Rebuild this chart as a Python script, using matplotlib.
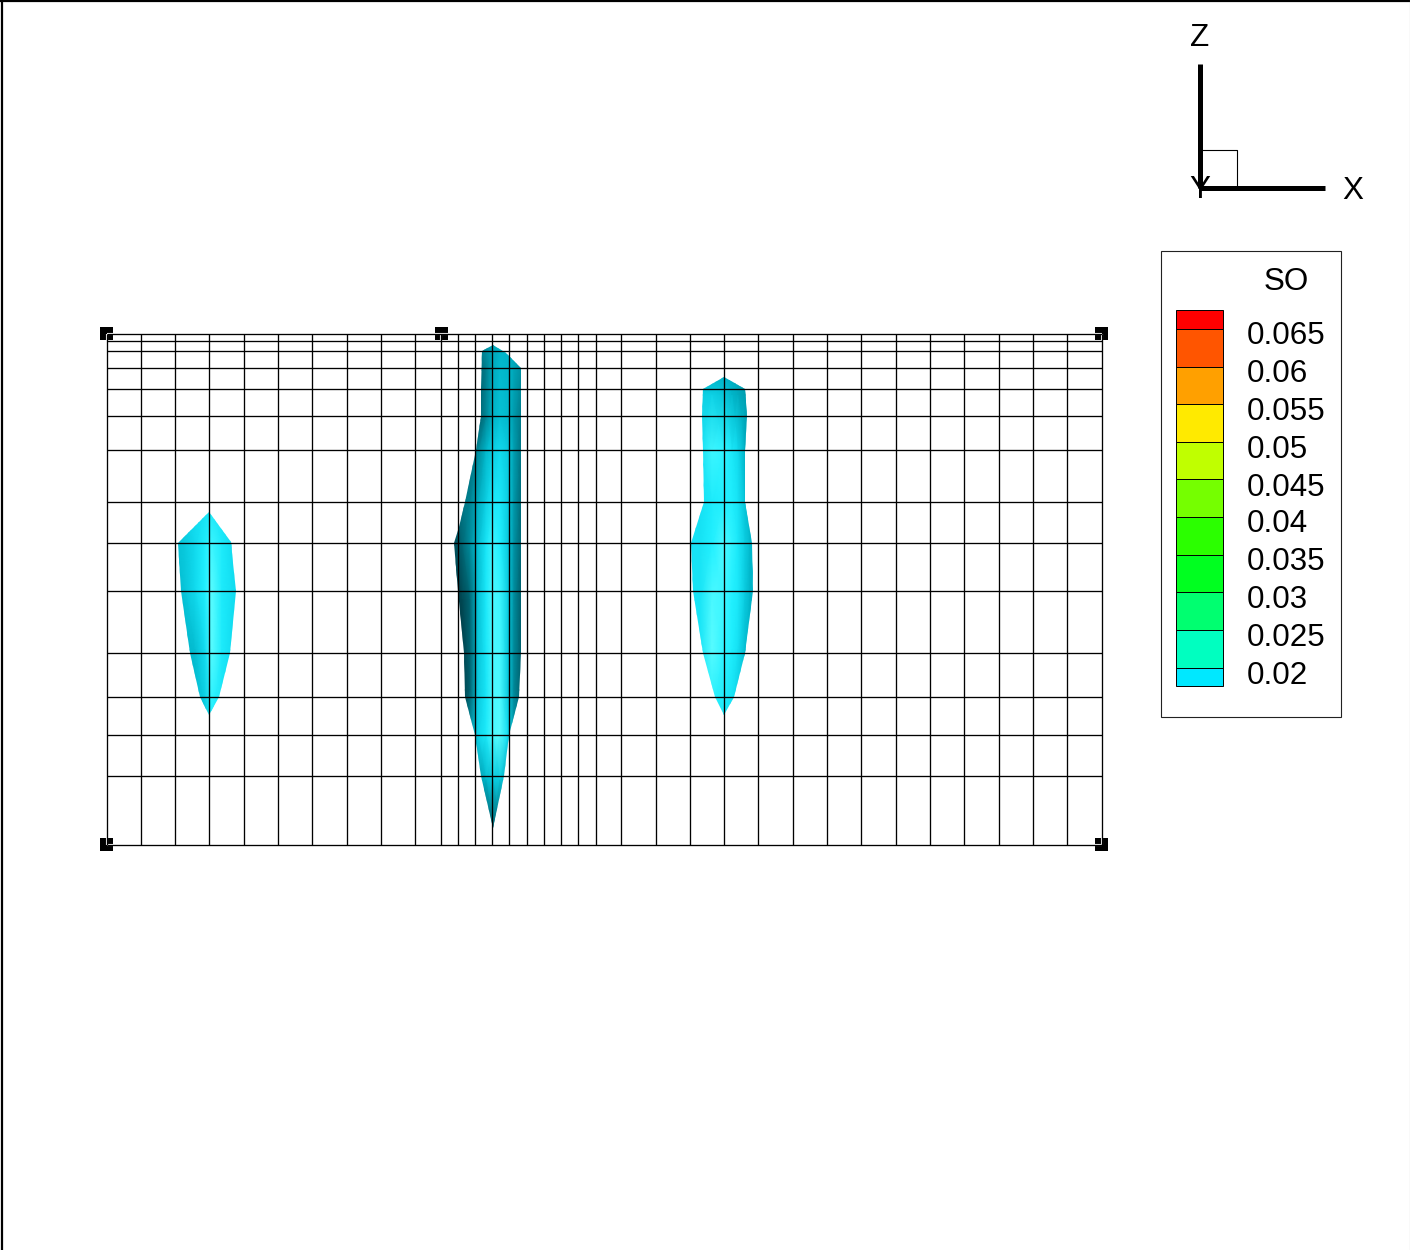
import numpy as np
from matplotlib import pyplot as plt
from matplotlib.colors import LinearSegmentedColormap
from matplotlib.patches import Polygon, Rectangle

plt.rcParams['font.family'] = ['Liberation Sans', 'DejaVu Sans']

W, H = 1410, 1250

# mesh lines
mesh_x = [106.7, 140.8, 175, 209.2, 243.6, 277.8, 312.2, 346.6, 380.8, 415.2, 441, 458.2, 475.4,
          492.4, 509.4, 526.7, 544, 561, 578.4, 595.7, 621.4, 655.7, 689.7, 724, 758.4,
          792.7, 827, 861.4, 895.7, 930, 964.4, 998.7, 1033, 1067.4, 1101.7]
mesh_y = [333.5, 340.5, 350.8, 367.8, 388.5, 416, 450, 501.8, 542.8, 590.5, 652.5, 696.8,
          734.8, 775.8, 844.8]
handles = [(106.7, 333.5), (441, 333.5), (1101.7, 333.5), (106.7, 844.8), (1101.7, 844.8)]

# blob outlines
left_blob = [(209.3, 511.7), (231, 541.7), (233, 563), (235.7, 591), (230, 653), (219, 697),
             (209.3, 714.5), (200, 697), (190, 653), (180.7, 591), (178.3, 542.7)]
centre_blob = [(492.7, 345), (506, 353.3), (520.7, 368), (521, 450), (521, 652.7), (519.3, 697),
               (509.3, 735), (504.3, 776), (492.7, 828), (480.7, 776), (475, 735), (465, 697),
               (464, 652.7), (458.3, 590.7), (454.3, 543), (459, 526.7), (465, 502),
               (475.7, 450.3), (481, 416.3), (480.7, 388.7), (482, 351)]
right_blob = [(724.3, 376.7), (745, 388.7), (746.7, 416.3), (745, 450.3), (744.7, 502),
              (751.7, 543), (752.7, 590.7), (745, 652.7), (734.3, 697), (724.3, 715),
              (715, 697), (703.3, 652.7), (693.3, 590.7), (690.7, 543), (704, 502),
              (703.3, 450.3), (702.3, 416.3), (703.3, 388.7)]

# shading read from the blobs: brightness at each column (x) and row (y)
left_sx = [176, 185, 195, 205, 212, 222, 232, 238]
left_sy = [510, 545, 590, 650, 715]
left_shade = [[.72, .72, .76, .80, .84, .80, .74, .72],
              [.62, .66, .74, .88, .94, .86, .76, .72],
              [.58, .64, .74, .90, .98, .86, .78, .74],
              [.50, .56, .60, .76, .98, .86, .76, .72],
              [.50, .55, .58, .66, .90, .80, .72, .70]]

centre_sx = [452, 462, 470, 478, 486, 493, 500, 508, 514, 522]
centre_sy = [344, 370, 420, 450, 500, 545, 600, 690, 735, 780, 830]
centre_shade = [[.35, .35, .35, .38, .44, .50, .54, .54, .52, .48],
                [.28, .28, .28, .28, .36, .52, .58, .56, .50, .42],
                [.28, .28, .28, .24, .40, .56, .62, .58, .46, .34],
                [.30, .30, .30, .40, .56, .68, .74, .66, .48, .32],
                [.30, .34, .38, .52, .68, .84, .84, .68, .46, .28],
                [.14, .28, .42, .60, .82, .94, .90, .66, .44, .26],
                [.10, .14, .28, .62, .84, .96, .94, .68, .42, .22],
                [.10, .10, .26, .66, .82, .96, .96, .66, .40, .24],
                [.30, .30, .44, .72, .86, .96, .98, .76, .46, .36],
                [.30, .30, .40, .46, .56, .66, .66, .50, .36, .30],
                [.14, .14, .16, .18, .22, .24, .24, .20, .16, .14]]

right_sx = [688, 700, 712, 724, 732, 738, 745, 750, 755]
right_sy = [375, 395, 450, 500, 545, 600, 650, 715]
right_shade = [[.52, .52, .54, .54, .52, .50, .46, .46, .46],
               [.68, .68, .70, .64, .56, .52, .48, .46, .46],
               [.78, .78, .94, .92, .84, .74, .54, .50, .50],
               [.78, .78, .86, .90, .88, .80, .62, .56, .56],
               [.80, .80, .90, .96, .92, .84, .68, .58, .56],
               [.80, .82, .96, .94, .90, .84, .66, .56, .54],
               [.80, .82, .98, .92, .88, .78, .60, .56, .54],
               [.82, .82, .88, .84, .78, .68, .60, .60, .60]]

# legend
level_labels = ['0.065', '0.06', '0.055', '0.05', '0.045', '0.04', '0.035', '0.03', '0.025', '0.02']
level_y = [334, 372, 409.5, 447, 485, 522, 560, 597.5, 635, 673]
band_edges = [310, 329, 367, 404, 442, 479, 517, 555, 592, 630, 668, 686]
band_colors = ['#ff0000', '#ff5500', '#ffa000', '#ffea00', '#c0ff00', '#75ff00',
               '#2bff00', '#00ff20', '#00ff70', '#00ffc0', '#00e8ff']

shade_cmap = LinearSegmentedColormap.from_list(
    'shade', [(0, '#002830'), (.3, '#006a78'), (.55, '#00b4c8'),
              (.75, '#12dcf0'), (.9, '#20f0ff'), (1, '#66ffff')])

fig = plt.figure(figsize=(W / 100, H / 100), dpi=100)
ax = fig.add_axes([0, 0, 1, 1])
ax.set_xlim(0, W)
ax.set_ylim(H, 0)
ax.axis('off')

# page frame
ax.plot([1.5, 1.5], [0, H], color='k', lw=1.6, zorder=1)
ax.plot([0, W], [0.8, 0.8], color='k', lw=1.6, zorder=1)
ax.plot([W - 0.5, W - 0.5], [0, H], color='#999999', lw=0.8, zorder=1)

# blobs
for outline, sx, sy, shade in [(left_blob, left_sx, left_sy, left_shade),
                               (centre_blob, centre_sx, centre_sy, centre_shade),
                               (right_blob, right_sx, right_sy, right_shade)]:
    mesh = ax.pcolormesh(sx, sy, np.array(shade), cmap=shade_cmap, vmin=0, vmax=1,
                         shading='gouraud', zorder=2)
    clip = Polygon(outline, closed=True, transform=ax.transData, fc='none', ec='none')
    ax.add_patch(clip)
    mesh.set_clip_path(clip)

# selection handles, the mesh runs through them with a white halo
for hx, hy in handles:
    ax.add_patch(Rectangle((hx - 6.5, hy - 6.5), 13, 13, fc='k', ec='none', zorder=3))
    ax.plot([max(hx - 6.5, mesh_x[0]), min(hx + 6.5, mesh_x[-1])], [hy, hy],
            color='w', lw=1.5, solid_capstyle='butt', zorder=3.5)
    ax.plot([hx, hx], [max(hy - 6.5, mesh_y[0]), min(hy + 6.5, mesh_y[-1])],
            color='w', lw=1.5, solid_capstyle='butt', zorder=3.5)

# mesh
ax.vlines(mesh_x, mesh_y[0], mesh_y[-1], color='k', lw=0.95, zorder=4)
ax.hlines(mesh_y, mesh_x[0], mesh_x[-1], color='k', lw=0.95, zorder=4)

# axis triad
ax.text(1199.5, 190, 'Y', fontsize=22.6, ha='center', va='center', zorder=5)
ax.plot([1200, 1200], [64, 188], color='k', lw=3.6, solid_capstyle='butt', zorder=6)
ax.plot([1200, 1325], [188, 188], color='k', lw=3.6, solid_capstyle='butt', zorder=6)
ax.plot([1203, 1237, 1237], [150, 150, 188], color='k', lw=0.8, zorder=6)
ax.text(1200, 38, 'Z', fontsize=22.6, ha='center', va='center')
ax.text(1353, 191, 'X', fontsize=22.6, ha='center', va='center')

# legend
ax.add_patch(Rectangle((1161, 251), 180, 466, fc='w', ec='#222222', lw=0.8, zorder=2))
ax.text(1286.5, 281.5, 'SO', fontsize=22.6, ha='center', va='center', zorder=3)
for i, color in enumerate(band_colors):
    ax.add_patch(Rectangle((1176, band_edges[i]), 47, band_edges[i + 1] - band_edges[i],
                           fc=color, ec='k', lw=0.7, zorder=3))
for label, ly in zip(level_labels, level_y):
    ax.text(1247, ly + 2.5, label, fontsize=22.6, ha='left', va='center', zorder=3)

plt.savefig('out.png', dpi=100)
